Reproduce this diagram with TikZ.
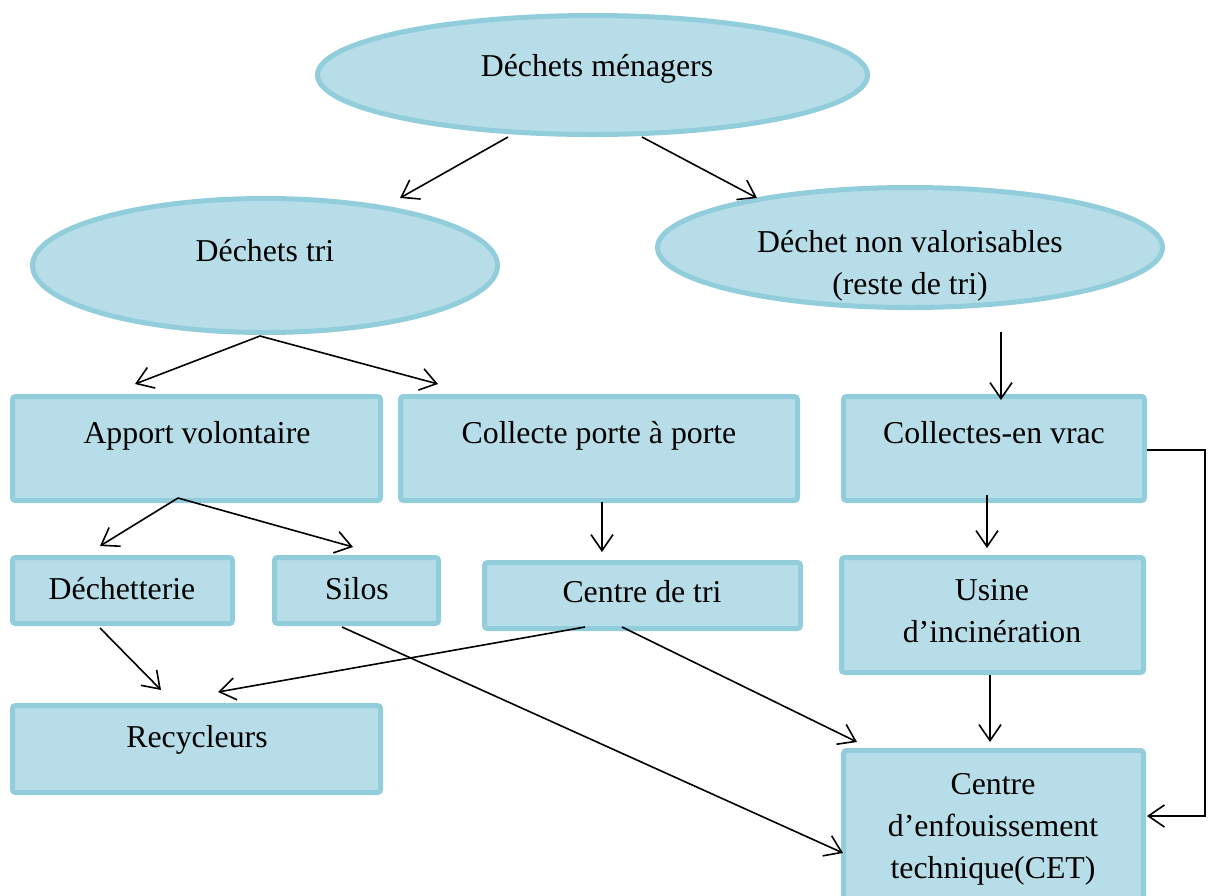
\documentclass[tikz,border=0pt]{standalone}
\usepackage{fontspec}
\setmainfont{Liberation Serif}
\usetikzlibrary{shapes.geometric,arrows.meta}
\definecolor{fillc}{HTML}{B7DDE8}
\definecolor{edgec}{HTML}{92CDDC}
\begin{document}
\begin{tikzpicture}[x=1pt,y=-1pt,
  oval/.style={ellipse, draw=edgec, fill=fillc, line width=5pt, inner sep=0pt},
  boxn/.style={rectangle, rounded corners=3pt, draw=edgec, fill=fillc, line width=5pt, inner sep=0pt},
  txt/.style={font=\fontsize{31.8}{42}\selectfont, align=center, text height=22pt, text depth=7pt, inner sep=0pt},
  arr/.style={line width=1.6pt, -{Straight Barb[length=16pt,width=22pt]}}
]
\useasboundingbox (0,0) rectangle (1208,895);
\clip (0,0) rectangle (1208,895);

% shapes
\node[oval, minimum width=550pt, minimum height=119pt] (dm) at (592.5,75) {};
\node[oval, minimum width=465pt, minimum height=134pt] (dt) at (265,265.5) {};
\node[oval, minimum width=505pt, minimum height=120pt] (nv) at (910,247.5) {};
\node[boxn, minimum width=368pt, minimum height=104pt] (av) at (196.5,448.5) {};
\node[boxn, minimum width=397pt, minimum height=104pt] (cp) at (599,448.5) {};
\node[boxn, minimum width=301pt, minimum height=104pt] (cv) at (994,448.5) {};
\node[boxn, minimum width=220pt, minimum height=66pt] (de) at (122.5,590.5) {};
\node[boxn, minimum width=164pt, minimum height=66pt] (si) at (356.5,590.5) {};
\node[boxn, minimum width=316pt, minimum height=66pt] (ct) at (642.5,595.5) {};
\node[boxn, minimum width=302pt, minimum height=115pt] (ui) at (992.5,615) {};
\node[boxn, minimum width=368pt, minimum height=87pt] (re) at (196.5,749) {};
\node[boxn, minimum width=300pt, minimum height=152pt] (cet) at (993.5,826.5) {};

% texts
\node[txt] (tdm) at (597,68.5) {Déchets ménagers};
\node[txt] (tdt) at (265,253.5) {Déchets tri};
\node[txt] (tnv) at (910,287) {Déchet non valorisables\\(reste de tri)};
\node[txt] (tav) at (197,435.5) {Apport volontaire};
\node[txt] (tcp) at (599,435.5) {Collecte porte à porte};
\node[txt] (tcv) at (994,435.5) {Collectes-en vrac};
\node[txt] (tde) at (122,591.5) {Déchetterie};
\node[txt] (tsi) at (357,591.5) {Silos};
\node[txt] (tct) at (642,594.5) {Centre de tri};
\node[txt] (tui) at (992,635) {Usine\\d’incinération};
\node[txt] (tre) at (197,739.5) {Recycleurs};
\node[txt] (tcet) at (993,870.5) {Centre\\d’enfouissement\\technique(CET)};

% connector end points
\coordinate (dmL) at (508,137);
\coordinate (dmR) at (642,137);
\coordinate (dtIn) at (400,198);
\coordinate (nvIn) at (757,198);
\coordinate (dtOut) at (260,336);
\coordinate (avIn) at (135,384);
\coordinate (cpIn) at (438,384);
\coordinate (nvOut) at (1001,332);
\coordinate (cvIn) at (1001,400);
\coordinate (avOut) at (178,498);
\coordinate (deIn) at (100,546);
\coordinate (siIn) at (353,547);
\coordinate (cpOut) at (602,502);
\coordinate (ctIn) at (602,552);
\coordinate (cvOut) at (987,495);
\coordinate (uiIn) at (987,548);
\coordinate (deOut) at (100,628);
\coordinate (reIn1) at (161,690);
\coordinate (ctOutL) at (585,627);
\coordinate (reIn2) at (218,692);
\coordinate (ctOutR) at (622,627);
\coordinate (cetIn1) at (857,742);
\coordinate (siOut) at (342,627);
\coordinate (cetIn2) at (843,853);
\coordinate (uiOut) at (990,675);
\coordinate (cetIn3) at (990,742);
\coordinate (cvSide) at (1147,450);
\coordinate (cetSide) at (1147,816);

% connectors
\draw[arr] (dmL) -- (dtIn);
\draw[arr] (dmR) -- (nvIn);
\draw[arr] (dtOut) -- (avIn);
\draw[arr] (dtOut) -- (cpIn);
\draw[arr] (nvOut) -- (cvIn);
\draw[arr] (avOut) -- (deIn);
\draw[arr] (avOut) -- (siIn);
\draw[arr] (cpOut) -- (ctIn);
\draw[arr] (cvOut) -- (uiIn);
\draw[arr] (deOut) -- (reIn1);
\draw[arr] (ctOutL) -- (reIn2);
\draw[arr] (ctOutR) -- (cetIn1);
\draw[arr] (siOut) -- (cetIn2);
\draw[arr] (uiOut) -- (cetIn3);
\draw[arr] (cvSide) -- (1205,450) -- (1205,816) -- (cetSide);
\end{tikzpicture}
\end{document}
